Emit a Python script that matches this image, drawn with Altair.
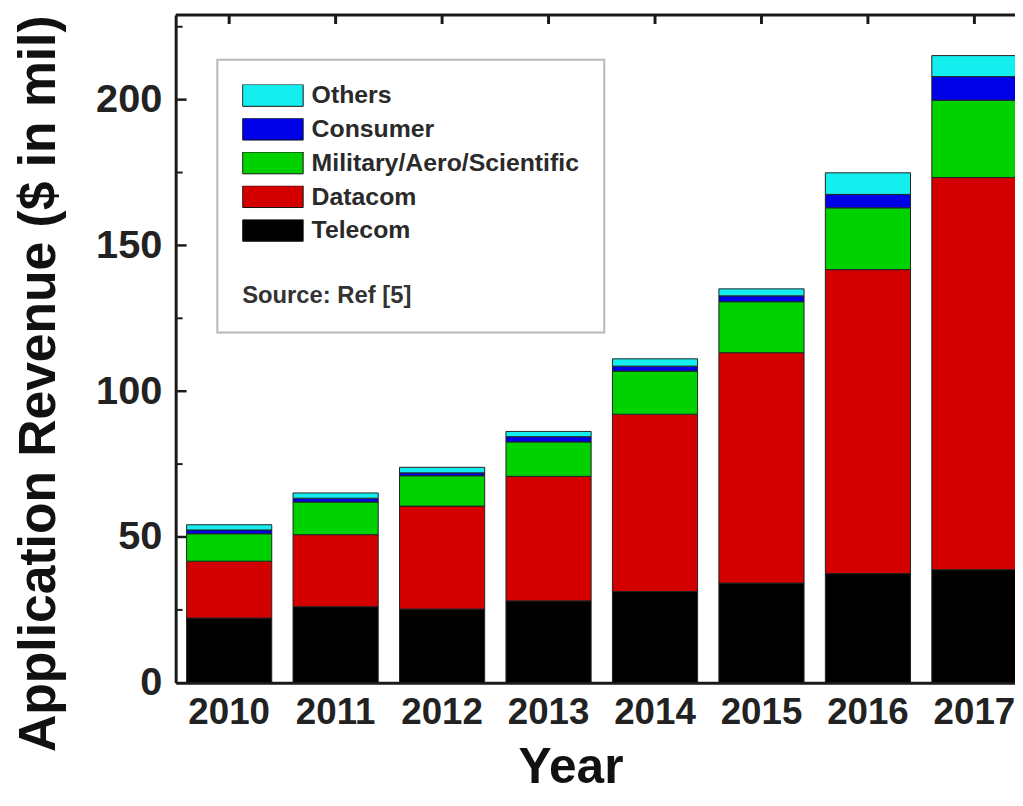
import altair as alt
import pandas as pd

years = ["2010", "2011", "2012", "2013", "2014", "2015", "2016", "2017"]
telecom = [22.2, 26.1, 25.3, 28.1, 31.3, 34.2, 37.5, 38.8]
datacom = [19.5, 24.7, 35.3, 42.7, 60.8, 79.0, 104.2, 134.5]
military = [9.4, 11.2, 10.4, 11.8, 14.8, 17.5, 21.2, 26.5]
consumer = [1.3, 1.3, 1.0, 1.8, 1.7, 2.0, 4.6, 8.1]
others = [1.8, 1.8, 1.9, 1.8, 2.5, 2.4, 7.4, 7.2]

series_names = ["Telecom", "Datacom", "Military/Aero/Scientific", "Consumer", "Others"]
series_vals = [telecom, datacom, military, consumer, others]
legend_order = ["Others", "Consumer", "Military/Aero/Scientific", "Datacom", "Telecom"]
legend_colors = ["#14eeee", "#0000e6", "#00d200", "#d40000", "#000000"]

major_ticks = [50, 100, 150, 200]
minor_ticks = [25, 75, 125, 175, 225]

rows = []
for k, (name, vals) in enumerate(zip(series_names, series_vals)):
    for yr, v in zip(years, vals):
        rows.append({"year": yr, "series": name, "value": v, "k": k})
df = pd.DataFrame(rows)

FONT = "Liberation Sans"
FRAME = "#1a1a1a"

xscale = alt.Scale(domain=years, range=[0, 859], paddingInner=0.2, paddingOuter=0.1025)
yscale = alt.Scale(domain=[0, 229], nice=False)

bars = alt.Chart(df).mark_bar(stroke="#222222", strokeWidth=1).encode(
    x=alt.X("year:N", scale=xscale, sort=years,
            axis=alt.Axis(labelAngle=0, ticks=False, tickSize=0, domainWidth=3,
                          domainColor=FRAME, labelFont=FONT, labelFontSize=37,
                          labelFontWeight="bold", labelColor="#222222", labelPadding=12,
                          title="Year", titleFont=FONT, titleFontSize=50,
                          titleFontWeight="bold", titleColor="#111111",
                          titleX=398, titleY=61, titleBaseline="top", titleAlign="center")),
    y=alt.Y("value:Q", stack="zero", scale=yscale,
            axis=alt.Axis(values=[0, 50, 100, 150, 200], ticks=False, tickSize=0,
                          domainWidth=3, domainColor=FRAME, grid=False,
                          labelFont=FONT, labelFontSize=40, labelFontWeight="bold",
                          labelColor="#222222", labelPadding=14,
                          title="Application Revenue ($ in mil)", titleFont=FONT,
                          titleFontSize=52, titleFontWeight="bold", titleColor="#111111",
                          titleAngle=270, titleX=-122, titleY=371,
                          titleBaseline="alphabetic", titleAlign="center")),
    color=alt.Color("series:N",
                    scale=alt.Scale(domain=legend_order, range=legend_colors),
                    legend=alt.Legend(orient="none", legendX=42, legendY=45,
                                      title="Source: Ref [5]", titleOrient="bottom",
                                      titleAnchor="start", titlePadding=41,
                                      titleFont=FONT, titleFontSize=24,
                                      titleFontWeight="bold", titleColor="#333333",
                                      symbolType="M-1,-0.36H1V0.36H-1Z", symbolSize=3721,
                                      symbolStrokeColor="#111111", symbolStrokeWidth=1,
                                      symbolOpacity=1, clipHeight=22, rowPadding=9,
                                      labelFont=FONT, labelFontSize=25,
                                      labelFontWeight="bold", labelColor="#2a2a2a",
                                      labelOffset=8, labelLimit=500, padding=25,
                                      strokeColor="#b8b8b8", fillColor="white")),
    order=alt.Order("k:Q", sort="ascending"),
)

top_ticks = alt.Chart(pd.DataFrame({"year": years})).mark_rule(
    color=FRAME, strokeWidth=3).encode(
    x=alt.X("year:N", scale=xscale, sort=years),
    y=alt.value(0), y2=alt.value(9))

ymaj = alt.Chart(pd.DataFrame({"value": major_ticks})).mark_rule(
    color=FRAME, strokeWidth=2.5).encode(
    y=alt.Y("value:Q", scale=yscale), x=alt.value(1.5), x2=alt.value(11))

ymin = alt.Chart(pd.DataFrame({"value": minor_ticks})).mark_rule(
    color=FRAME, strokeWidth=2).encode(
    y=alt.Y("value:Q", scale=yscale), x=alt.value(1.5), x2=alt.value(7))

top_line = alt.Chart(pd.DataFrame({"a": [0]})).mark_rule(
    color=FRAME, strokeWidth=3).encode(
    x=alt.value(0), x2=alt.value(859), y=alt.value(0))

chart = alt.layer(bars, top_ticks, ymaj, ymin, top_line).properties(
    width=846, height=673,
    autosize=alt.AutoSizeParams(type="none"),
    padding={"left": 169, "top": 4, "right": 0, "bottom": 112},
).configure_view(stroke=None).configure_legend(strokeWidth=2)

chart.save("out.html", embed_options={"renderer": "svg", "actions": False})
